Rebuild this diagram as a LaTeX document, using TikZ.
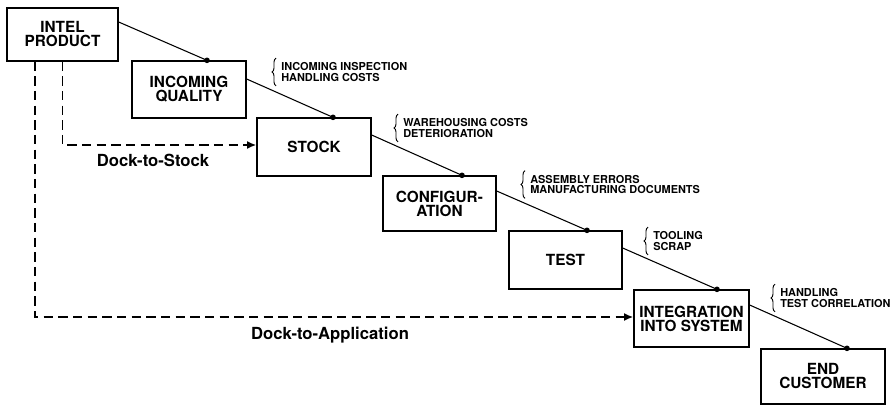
\documentclass[tikz,border=0pt]{standalone}
\usepackage{fontspec}
\setmainfont{TeX Gyre Heros}
\usetikzlibrary{arrows.meta,decorations.pathreplacing,calc}
\begin{document}
\begin{tikzpicture}[x=0.75pt,y=-0.75pt,
  box/.style={draw,line width=1pt,inner sep=0pt,align=center,font=\fontsize{11.5}{10.5}\selectfont\bfseries},
  link/.style={line width=0.8pt},
  dot/.style={circle,fill,inner sep=0pt,minimum size=4.2pt},
  dock/.style={line width=1.4pt,dash pattern=on 7pt off 4pt,-{Latex[length=7pt,width=6pt]}},
  note/.style={anchor=west,align=left,inner sep=0pt,font=\fontsize{8.2}{8.2}\selectfont\bfseries},
  brace/.style={decorate,decoration={brace,amplitude=3pt},line width=0.7pt},
  docklabel/.style={inner sep=0pt,font=\fontsize{12.5}{14}\selectfont\bfseries}]
\useasboundingbox (0,0) rectangle (893,406);
% boxes
\node[box,minimum width=83.25pt,minimum height=39.75pt] (ip) at (62.5,34.5) {INTEL\\PRODUCT};
\node[box,minimum width=85.5pt,minimum height=42.75pt] (iq) at (189,89.5) {INCOMING\\QUALITY};
\node[box,minimum width=85.5pt,minimum height=43.5pt] (st) at (314,147) {STOCK};
\node[box,minimum width=84.75pt,minimum height=41.25pt] (cf) at (439.5,203.5) {CONFIGUR-\\ATION};
\node[box,minimum width=84.75pt,minimum height=43.5pt] (ts) at (565.5,260) {TEST};
\node[box,minimum width=86.25pt,minimum height=42.75pt] (ig) at (691.5,318.5) {INTEGRATION\\INTO SYSTEM};
\node[box,minimum width=93pt,minimum height=41.25pt] (ec) at (823,376.5) {END\\CUSTOMER};
% dots
\node[dot] (d1) at ($(iq.north)+(18,0)$) {};
\node[dot] (d2) at ($(st.north)+(19,0)$) {};
\node[dot] (d3) at ($(cf.north)+(22.5,0)$) {};
\node[dot] (d4) at ($(ts.north)+(21.5,0)$) {};
\node[dot] (d5) at ($(ig.north)+(25.5,0)$) {};
\node[dot] (d6) at ($(ec.north)+(24,0)$) {};
% cascade links
\draw[link] ($(ip.east)+(0,-12.5)$) -- (d1.center);
\draw[link] ($(iq.east)+(0,-10.5)$) -- (d2.center);
\draw[link] ($(st.east)+(0,-12)$) -- (d3.center);
\draw[link] ($(cf.east)+(0,-12.5)$) -- (d4.center);
\draw[link] ($(ts.east)+(0,-12)$) -- (d5.center);
\draw[link] ($(ig.east)+(0,-13.5)$) -- (d6.center);
% dock paths
\draw[dock] (ip.south) |- ($(st.west)+(0,-2)$);
\draw[dock] ($(ip.south)+(-27.5,0)$) |- ($(ig.west)+(0,-1.5)$);
\node[docklabel] (l1) at (153,160) {Dock-to-Stock};
\node[docklabel] (l2) at (330,335) {Dock-to-Application};
% notes
\node[note] (n1) at (281,72) {INCOMING INSPECTION\\HANDLING COSTS};
\node[note] (n2) at (403,128) {WAREHOUSING COSTS\\DETERIORATION};
\node[note] (n3) at (530,184.5) {ASSEMBLY ERRORS\\MANUFACTURING DOCUMENTS};
\node[note] (n4) at (653,241) {TOOLING\\SCRAP};
\node[note] (n5) at (780,298) {HANDLING\\TEST CORRELATION};
\foreach \n in {n1,n2,n3,n4,n5}
  \draw[brace] ($(\n.south west)+(-5,4)$) -- ($(\n.north west)+(-5,-4)$);
\end{tikzpicture}
\end{document}
